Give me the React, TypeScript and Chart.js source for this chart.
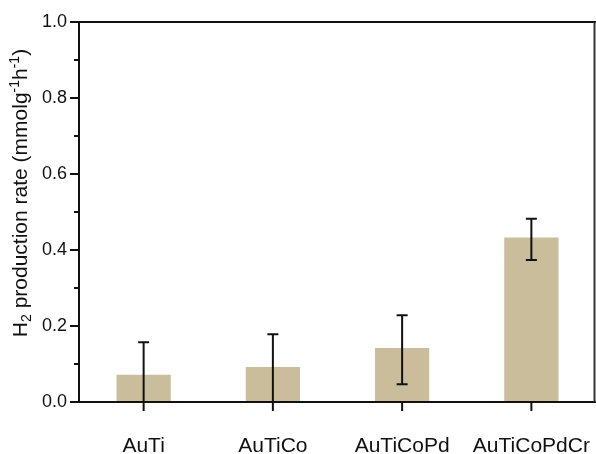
import React, { useEffect, useRef } from "react";
import { Chart, registerables } from "chart.js";

Chart.register(...registerables);

const categories = ["AuTi", "AuTiCo", "AuTiCoPd", "AuTiCoPdCr"];
const rates = [0.072, 0.092, 0.142, 0.433];
const errHigh = [0.157, 0.178, 0.228, 0.482];
const errLow = [-0.015, -0.004, 0.047, 0.374];
const majorTicks = [0, 0.2, 0.4, 0.6, 0.8, 1.0];
const minorTicks = [0.1, 0.3, 0.5, 0.7, 0.9];
// y-axis title pieces: [text, kind] where kind is "n" normal, "sub", "sup"
const yTitleParts: [string, string][] = [
  ["H", "n"],
  ["2", "sub"],
  [" production rate (mmolg", "n"],
  ["-1", "sup"],
  ["h", "n"],
  ["-1", "sup"],
  [")", "n"],
];

const FONT = "'Liberation Sans', Arial, Helvetica, sans-serif";
const TITLE_SIZE = 21;

const errorBarPlugin = {
  id: "errorBarPlugin",
  afterDatasetsDraw(chart: any) {
    const ctx = chart.ctx;
    const area = chart.chartArea;
    const ys = chart.scales.y;
    const meta = chart.getDatasetMeta(0);
    ctx.save();
    ctx.beginPath();
    ctx.rect(area.left, area.top, area.right - area.left, area.bottom - area.top);
    ctx.clip();
    ctx.strokeStyle = "#111";
    ctx.lineWidth = 2;
    meta.data.forEach((bar: any, i: number) => {
      const x = bar.x;
      const yh = ys.getPixelForValue(errHigh[i]);
      const yl = ys.getPixelForValue(errLow[i]);
      ctx.beginPath();
      ctx.moveTo(x, yh);
      ctx.lineTo(x, yl);
      ctx.moveTo(x - 5.5, yh);
      ctx.lineTo(x + 5.5, yh);
      ctx.moveTo(x - 5.5, yl);
      ctx.lineTo(x + 5.5, yl);
      ctx.stroke();
    });
    ctx.restore();
  },
};

const framePlugin = {
  id: "framePlugin",
  afterDraw(chart: any) {
    const ctx = chart.ctx;
    const area = chart.chartArea;
    const ys = chart.scales.y;
    const meta = chart.getDatasetMeta(0);
    const rightX = chart.width - 1.5;
    ctx.save();
    ctx.strokeStyle = "#111";
    ctx.lineWidth = 2;
    ctx.beginPath();
    ctx.moveTo(area.left, area.top);
    ctx.lineTo(area.left, area.bottom);
    ctx.moveTo(area.left - 9, area.bottom);
    ctx.lineTo(chart.width, area.bottom);
    ctx.moveTo(area.left - 9, area.top);
    ctx.lineTo(chart.width, area.top);
    ctx.stroke();
    ctx.beginPath();
    majorTicks.forEach((v) => {
      const y = ys.getPixelForValue(v);
      ctx.moveTo(area.left - 9, y);
      ctx.lineTo(area.left, y);
    });
    minorTicks.forEach((v) => {
      const y = ys.getPixelForValue(v);
      ctx.moveTo(area.left - 5, y);
      ctx.lineTo(area.left, y);
    });
    meta.data.forEach((bar: any) => {
      ctx.moveTo(bar.x, area.bottom);
      ctx.lineTo(bar.x, area.bottom + 9);
    });
    ctx.stroke();
    ctx.strokeStyle = "#333";
    ctx.lineWidth = 2;
    ctx.beginPath();
    ctx.moveTo(rightX, area.top);
    ctx.lineTo(rightX, area.bottom);
    ctx.stroke();
    ctx.restore();

    // rotated y-axis title with sub/superscripts
    ctx.save();
    const small = Math.round(TITLE_SIZE * 0.66);
    const measure = (t: string, k: string) => {
      ctx.font = `${k === "n" ? TITLE_SIZE : small}px ${FONT}`;
      return ctx.measureText(t).width;
    };
    const total = yTitleParts.reduce((s, [t, k]) => s + measure(t, k), 0);
    const centerY = (area.top + area.bottom) / 2 - 19;
    ctx.translate(27, centerY);
    ctx.rotate(-Math.PI / 2);
    ctx.fillStyle = "#111";
    ctx.textBaseline = "alphabetic";
    ctx.textAlign = "left";
    let x = -total / 2;
    yTitleParts.forEach(([t, k]) => {
      const w = measure(t, k);
      const dy = k === "sub" ? 4 : k === "sup" ? -8 : 0;
      ctx.fillText(t, x, dy);
      x += w;
    });
    ctx.restore();
  },
};

export default function App() {
  const ref = useRef<HTMLCanvasElement | null>(null);
  useEffect(() => {
    document.body.style.margin = "0";
    document.body.style.overflow = "hidden";
    const chart = new Chart(ref.current as HTMLCanvasElement, {
      type: "bar",
      data: {
        labels: categories,
        datasets: [
          {
            data: rates,
            backgroundColor: "#c9bd9c",
            borderWidth: 0,
            barPercentage: 0.42,
            categoryPercentage: 1,
          },
        ],
      },
      plugins: [errorBarPlugin, framePlugin],
      options: {
        responsive: false,
        animation: false,
        layout: { padding: { top: 22, right: 0, left: 0, bottom: 0 } },
        plugins: { legend: { display: false }, tooltip: { enabled: false } },
        scales: {
          x: {
            grid: { display: false },
            border: { display: false },
            ticks: {
              color: "#111",
              font: { family: FONT, size: 21 },
              padding: 24,
              maxRotation: 0,
              autoSkip: false,
            },
            afterFit: (s: any) => {
              s.height = 52;
              s.paddingLeft = 0;
              s.paddingRight = 0;
            },
          },
          y: {
            min: 0,
            max: 1,
            grid: { display: false },
            border: { display: false },
            ticks: {
              stepSize: 0.2,
              color: "#111",
              font: { family: FONT, size: 18 },
              padding: 4,
              callback: (v: any) => Number(v).toFixed(1),
            },
            afterFit: (s: any) => {
              s.width = 79;
              s.paddingTop = 0;
              s.paddingBottom = 0;
            },
          },
        },
      },
    });
    return () => chart.destroy();
  }, []);
  return (
    <div style={{ position: "absolute", left: 0, top: 0, width: 596, height: 454, overflow: "hidden" }}>
      <canvas ref={ref} width={596} height={454} style={{ display: "block" }} />
    </div>
  );
}
